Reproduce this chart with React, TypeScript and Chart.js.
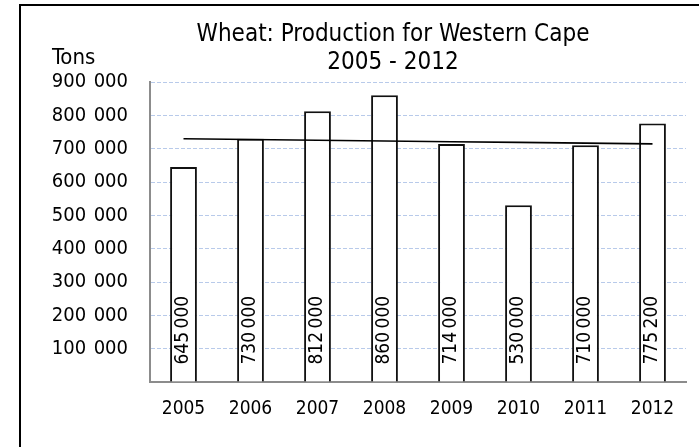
import React, { useEffect, useRef } from 'react';
import { Chart, registerables } from 'chart.js';

Chart.register(...registerables);

const FONT = "'DejaVu Sans Condensed', 'DejaVu Sans', sans-serif";

const years = ['2005', '2006', '2007', '2008', '2009', '2010', '2011', '2012'];
const production = [645000, 730000, 812000, 860000, 714000, 530000, 710000, 775200];
const titleLines = ['Wheat: Production for Western Cape', '2005 - 2012'];
const yUnit = 'Tons';
const yMax = 900000;
const yStep = 100000;

const CANVAS_W = 786;
const CANVAS_H = 447;

const groupDigits = (v: number, sep: string) =>
  Math.round(v).toString().replace(/\B(?=(\d{3})+(?!\d))/g, sep);

// Linear trendline (least squares) derived from the production values
function linearTrend(values: number[]): number[] {
  const n = values.length;
  const mx = (n - 1) / 2;
  const my = values.reduce((a, b) => a + b, 0) / n;
  let sxy = 0;
  let sxx = 0;
  values.forEach((v, i) => {
    sxy += (i - mx) * (v - my);
    sxx += (i - mx) * (i - mx);
  });
  const slope = sxy / sxx;
  return values.map((_, i) => my + slope * (i - mx));
}

const barLabelPlugin = {
  id: 'barLabels',
  afterLayout(chart: any) {
    // centre the title over the whole chart box rather than the padded area
    const t = chart.titleBlock;
    if (t) {
      t.left = 0;
      t.right = CANVAS_W;
      t.width = CANVAS_W;
    }
  },
  afterDatasetsDraw(chart: any) {
    const ctx = chart.ctx;
    const meta = chart.getDatasetMeta(0);
    ctx.save();
    ctx.font = `19px ${FONT}`;
    ctx.fillStyle = '#000';
    ctx.textAlign = 'left';
    ctx.textBaseline = 'middle';
    meta.data.forEach((el: any, i: number) => {
      const { x, base } = el.getProps(['x', 'base'], true);
      ctx.save();
      ctx.translate(x, base - 17);
      ctx.rotate(-Math.PI / 2);
      ctx.fillText(groupDigits(production[i], '\u2009'), 0, 0);
      ctx.restore();
    });
    // unit label above the y axis
    ctx.font = `22px ${FONT}`;
    ctx.fillText(yUnit, 52, 58);
    ctx.restore();
  },
};

export default function App() {
  const ref = useRef<HTMLCanvasElement | null>(null);

  useEffect(() => {
    if (!ref.current) return;
    Chart.defaults.font.family = FONT;
    const chart = new Chart(ref.current, {
      type: 'bar',
      data: {
        labels: years,
        datasets: [
          {
            type: 'bar',
            data: production,
            backgroundColor: '#ffffff',
            borderColor: '#111111',
            borderWidth: 2,
            categoryPercentage: 1,
            barPercentage: 0.4,
            order: 2,
          },
          {
            type: 'line',
            data: linearTrend(production),
            borderColor: '#000000',
            borderWidth: 1.6,
            pointRadius: 0,
            fill: false,
            order: 1,
          } as any,
        ],
      },
      options: {
        responsive: false,
        animation: false,
        devicePixelRatio: 1,
        layout: { padding: { left: 0, right: 100, top: 0, bottom: 0 } },
        plugins: {
          legend: { display: false },
          tooltip: { enabled: false },
          title: {
            display: true,
            text: titleLines,
            color: '#000',
            font: { family: FONT, size: 24, weight: 'normal', lineHeight: 1.15 },
            padding: { top: 21, bottom: 5.8 },
          },
        },
        scales: {
          x: {
            grid: { display: false, drawTicks: false },
            border: { display: true, color: '#8c8c8c', width: 2 },
            ticks: { color: '#000', font: { size: 19 }, padding: 16, maxRotation: 0 },
            afterFit: (scale: any) => {
              scale.height = 65;
            },
          },
          y: {
            min: 0,
            max: yMax,
            grid: {
              color: '#b8caea',
              lineWidth: 1,
              drawTicks: false,
            },
            border: { display: true, color: '#8c8c8c', width: 2, dash: [4, 2] },
            ticks: {
              stepSize: yStep,
              color: '#000',
              font: { size: 20 },
              padding: 22,
              callback: (v: any) => (Number(v) === 0 ? '' : groupDigits(Number(v), ' \u200A')),
            },
            afterFit: (scale: any) => {
              scale.width = 150;
            },
          },
        },
      },
      plugins: [barLabelPlugin],
    } as any);
    return () => chart.destroy();
  }, []);

  return (
    <div
      style={{
        position: 'fixed',
        left: 0,
        top: 0,
        width: 699,
        height: 447,
        overflow: 'hidden',
        background: '#fff',
      }}
    >
      <div
        style={{
          position: 'absolute',
          left: 19,
          top: 4,
          width: 900,
          height: 900,
          borderLeft: '2px solid #000',
          borderTop: '2px solid #000',
        }}
      />
      <canvas
        ref={ref}
        width={CANVAS_W}
        height={CANVAS_H}
        style={{ position: 'absolute', left: 0, top: 0, width: CANVAS_W, height: CANVAS_H }}
      />
    </div>
  );
}
